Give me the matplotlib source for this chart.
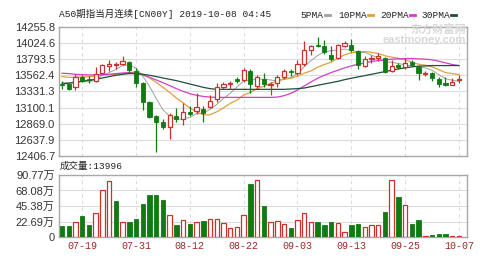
import numpy as np
import matplotlib
matplotlib.use("Agg")
import matplotlib.pyplot as plt
from matplotlib.lines import Line2D

plt.rcParams['font.family'] = ['Liberation Sans', 'Noto Sans CJK SC']
MONO = ['Liberation Mono', 'Noto Sans CJK SC']

# K线数据 (07-16 .. 10-07)
opens = [13432, 13439, 13401, 13535, 13506, 13487, 13593, 13698, 13708, 13727,
         13761, 13631, 13458, 13184, 12978, 12901, 12824, 12978, 12944, 13035,
         13054, 13074, 13112, 13218, 13401, 13439, 13506, 13497, 13631, 13410,
         13506, 13420, 13449, 13545, 13626, 13593, 13727, 13929, 13996, 13977,
         13857, 13809, 13987, 14001, 13905, 13703, 13795, 13814, 13809, 13626,
         13708, 13689, 13756, 13689, 13588, 13593, 13516, 13449, 13430, 13497]
closes = [13425, 13367, 13545, 13487, 13497, 13578, 13713, 13727, 13722, 13766,
          13641, 13458, 13184, 12968, 12896, 12824, 12992, 12930, 13040, 13006,
          13112, 13016, 13199, 13401, 13439, 13458, 13487, 13641, 13439, 13535,
          13439, 13439, 13545, 13631, 13607, 13727, 13929, 13987, 13977, 13891,
          13795, 14001, 14025, 13919, 13713, 13799, 13814, 13833, 13617, 13698,
          13689, 13737, 13718, 13593, 13602, 13521, 13439, 13430, 13473, 13516]
highs = [13482, 13449, 13583, 13569, 13554, 13689, 13727, 13785, 13756, 13843,
         13771, 13665, 13473, 13199, 12992, 12930, 13026, 13088, 13160, 13122,
         13314, 13122, 13280, 13449, 13473, 13478, 13545, 13665, 13650, 13569,
         13593, 13473, 13569, 13650, 13650, 13785, 14049, 14001, 14107, 14064,
         13987, 14015, 14049, 14088, 13919, 13843, 13857, 13881, 13823, 13785,
         13746, 13809, 13785, 13713, 13631, 13607, 13545, 13535, 13521, 13569]
lows = [13367, 13353, 13353, 13473, 13449, 13473, 13583, 13631, 13650, 13708,
        13593, 13401, 13064, 12958, 12460, 12800, 12656, 12896, 12848, 12978,
        13006, 12896, 13088, 13184, 13372, 13362, 13449, 13473, 13304, 13376,
        13391, 13280, 13391, 13506, 13554, 13569, 13698, 13857, 13967, 13871,
        13771, 13795, 13967, 13891, 13650, 13689, 13737, 13775, 13602, 13617,
        13650, 13660, 13698, 13497, 13554, 13487, 13391, 13410, 13420, 13458]

ma5 = [13458, 13458, 13468, 13473, 13468, 13497, 13564, 13602, 13646, 13703,
       13713, 13665, 13554, 13405, 13232, 13069, 12978, 12930, 12939, 12958,
       13016, 13021, 13074, 13146, 13232, 13304, 13396, 13482, 13492, 13511,
       13506, 13497, 13482, 13516, 13530, 13588, 13689, 13775, 13847, 13900,
       13915, 13929, 13939, 13924, 13891, 13891, 13852, 13814, 13756, 13751,
       13732, 13713, 13694, 13689, 13670, 13636, 13573, 13516, 13492, 13477]
ma10 = [13545, 13535, 13535, 13540, 13545, 13554, 13564, 13573, 13578, 13583,
        13602, 13612, 13578, 13525, 13463, 13391, 13319, 13237, 13170, 13093,
        13040, 12997, 12997, 13040, 13098, 13160, 13208, 13280, 13319, 13372,
        13405, 13449, 13482, 13506, 13521, 13549, 13593, 13626, 13679, 13718,
        13751, 13809, 13857, 13886, 13895, 13905, 13891, 13876, 13843, 13823,
        13809, 13785, 13751, 13722, 13708, 13684, 13646, 13602, 13588, 13573]
ma20 = [13593, 13588, 13578, 13573, 13569, 13569, 13573, 13578, 13588, 13597,
        13602, 13593, 13569, 13535, 13497, 13458, 13415, 13372, 13333, 13300,
        13276, 13261, 13251, 13247, 13247, 13247, 13247, 13247, 13247, 13247,
        13247, 13247, 13251, 13271, 13304, 13352, 13410, 13468, 13521, 13564,
        13602, 13636, 13670, 13698, 13722, 13742, 13761, 13775, 13785, 13795,
        13799, 13804, 13804, 13799, 13795, 13785, 13766, 13742, 13718, 13703]
ma30 = [13439, 13449, 13463, 13477, 13492, 13506, 13525, 13545, 13564, 13578,
        13588, 13588, 13578, 13564, 13545, 13525, 13506, 13487, 13463, 13439,
        13415, 13391, 13372, 13362, 13362, 13362, 13362, 13362, 13362, 13362,
        13362, 13362, 13362, 13362, 13367, 13372, 13381, 13400, 13420, 13439,
        13458, 13477, 13501, 13521, 13540, 13559, 13578, 13597, 13617, 13636,
        13655, 13670, 13684, 13694, 13698, 13703, 13703, 13703, 13703, 13703]

# 成交量 (万)
volume = [15.7, 16.7, 22, 30.3, 17, 35.7, 68.3, 81.5, 52.7, 22.5,
          22.5, 26.3, 47.8, 62, 62, 53.7, 31.8, 17, 24.4, 19.6,
          22, 23.4, 27, 27, 21, 12.7, 14.7, 32.8, 78, 83,
          45, 22, 23.4, 18.6, 12.7, 24.4, 35, 22, 22, 17,
          22, 21, 8, 18, 19.6, 14.7, 17, 17, 36.6, 84,
          58.6, 47.4, 19.6, 24.4, 2, 3, 5, 5, 2, 1.4]
vol_up = [0, 0, 1, 0, 0, 1, 1, 1, 0, 1, 0, 0, 0, 0, 0, 0, 1, 0, 1, 0,
          1, 0, 1, 1, 1, 1, 1, 1, 0, 1, 0, 1, 1, 1, 0, 1, 1, 1, 0, 0,
          0, 1, 1, 0, 0, 1, 1, 1, 0, 1, 0, 1, 0, 0, 1, 0, 0, 0, 1, 1]

price_ticks = [12406.7, 12637.9, 12869.0, 13100.1, 13331.3, 13562.4, 13793.5, 14024.6, 14255.8]
vol_ticks = [0, 22.69, 45.38, 68.08, 90.77]
vol_labels = ['0', '22.69万', '45.38万', '68.08万', '90.77万']
date_idx = [3, 11, 19, 27, 35, 43, 51, 59]
date_labels = ['07-19', '07-31', '08-12', '08-22', '09-03', '09-13', '09-25', '10-07']

RED = '#c8322f'
GREEN = '#127a12'
GRID = '#dcdcdc'
FRAME = '#a8a8a8'
TXT = '#333333'

fig = plt.figure(figsize=(4.99, 2.62), dpi=100)
ax = fig.add_axes([59/499, 1-156/262, 408/499, 129/262])
axv = fig.add_axes([59/499, 1-237/262, 408/499, 62/262])

n = len(opens)
x = np.arange(n)
o = np.array(opens); c = np.array(closes)
up = c >= o
w = 0.62

for a in (ax, axv):
    a.set_xlim(-0.45, 60.2)
    for s in a.spines.values():
        s.set_color(FRAME)
        s.set_linewidth(1.0)
    a.tick_params(length=0, colors=TXT, labelsize=8, pad=3)
    a.set_xticks(date_idx)
    a.grid(axis='x', color=GRID, linestyle=(0, (3, 3)), linewidth=0.8)
    a.grid(axis='y', color=GRID, linestyle='-', linewidth=0.8)
    a.set_axisbelow(True)

# 均线
ax.plot(x, ma5, color='#a0a0a0', lw=0.7, zorder=2)
ax.plot(x, ma10, color='#e0a040', lw=0.9, zorder=2)
ax.plot(x, ma20, color='#d040c8', lw=0.9, zorder=2)
ax.plot(x, ma30, color='#1f4f3a', lw=0.9, zorder=2)

# K线
cols = np.where(up, RED, GREEN)
ax.vlines(x, lows, highs, colors=cols, lw=0.9, zorder=3)
body_lo = np.minimum(o, c)
body_h = np.maximum(np.abs(c - o), 4)
ax.bar(x[up], body_h[up], bottom=body_lo[up], width=w, facecolor='white',
       edgecolor=RED, linewidth=0.9, zorder=4)
ax.bar(x[~up], body_h[~up], bottom=body_lo[~up], width=w, color=GREEN,
       edgecolor=GREEN, linewidth=0.6, zorder=4)

ax.set_ylim(price_ticks[0], price_ticks[-1])
ax.set_yticks(price_ticks)
ax.set_yticklabels([f'{t:.1f}' for t in price_ticks])
ax.set_xticklabels([])

# 成交量
vu = np.array(vol_up, dtype=bool)
vol = np.array(volume)
axv.bar(x[vu], vol[vu], width=0.66, facecolor='white', edgecolor=RED, linewidth=0.9, zorder=3)
axv.bar(x[~vu], vol[~vu], width=0.66, color=GREEN, edgecolor=GREEN, linewidth=0.6, zorder=3)
axv.set_ylim(0, 90.77)
axv.set_yticks(vol_ticks)
axv.set_yticklabels(vol_labels)
axv.set_xticklabels(date_labels, color='#9a2a2a', fontsize=7.2, family=MONO)

# 标题与图例
fig.text(59/499, 1-14/262, 'A50期指当月连续[CN00Y] 2019-10-08 04:45', fontsize=6.8,
         color='#222222', va='center', ha='left', family=MONO)
legend = [('5PMA', '#a0a0a0', 300), ('10PMA', '#e0a040', 338),
          ('20PMA', '#d040c8', 380), ('30PMA', '#1f4f3a', 421)]
for name, col, px in legend:
    fig.text(px/499, 1-15/262, name, fontsize=6.8, color='#222222', va='center',
             ha='left', family=MONO)
    mx = px + len(name) * 5.67 + 2
    fig.add_artist(Line2D([mx/499, (mx + 5)/499], [1-15/262, 1-15/262],
                          transform=fig.transFigure, color=col, lw=2))
fig.text(60/499, 1-166/262, '成交量:13996', fontsize=6.8, color='#222222',
         va='center', ha='left', family=MONO)
fig.text(466/499, 1-35/262, '东方财富网\neastmoney.com', fontsize=8, color='#d8d8d8',
         va='center', ha='right', fontweight='bold', linespacing=0.9)

fig.savefig('out.png', dpi=100)
